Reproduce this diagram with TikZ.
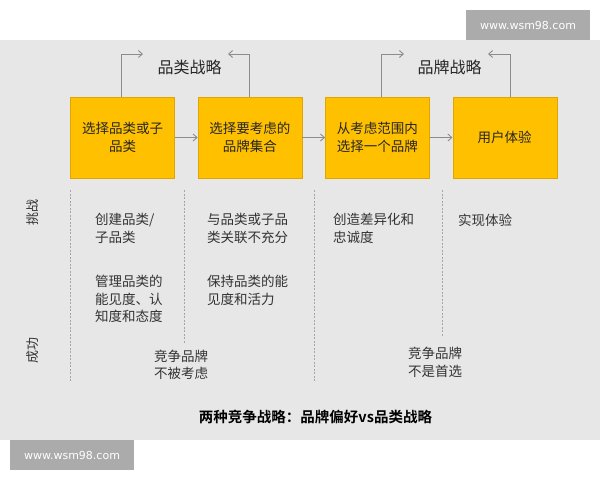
\documentclass[tikz,border=0pt]{standalone}
\usepackage{fontspec}
\setmainfont{Noto Sans CJK SC}[BoldFont={Noto Sans CJK SC Bold}]
\newfontfamily\wmfont{DejaVu Sans}
\usetikzlibrary{positioning,arrows.meta}
\definecolor{gold}{HTML}{FFC000}
\definecolor{goldline}{HTML}{E0A500}
\definecolor{panel}{HTML}{E7E7E7}
\definecolor{wmgray}{HTML}{ABABAB}
\definecolor{arrowgray}{HTML}{8C8C8C}
\begin{document}
\begin{tikzpicture}[x=1pt,y=-1pt,
  stepbox/.style={draw=goldline,fill=gold,minimum width=104pt,minimum height=81pt,inner sep=0pt,align=center,text=black!85,font=\fontsize{13.5}{18}\selectfont},
  flow/.style={draw=arrowgray,line width=0.9pt,-{Straight Barb[length=4pt,width=7pt]}},
  sep/.style={draw=gray!70,line width=0.6pt,dash pattern=on 2pt off 1.5pt},
  note/.style={anchor=west,align=left,inner sep=0pt,text=black!80,font=\fontsize{13.5}{17.5}\selectfont},
  wm/.style={fill=wmgray,text=white,minimum width=124pt,minimum height=30pt,inner sep=0pt,font=\wmfont\fontsize{11}{13}\selectfont}]
\useasboundingbox (0,0) rectangle (600,480);
\fill[panel] (0,40) rectangle (600,440);
% watermarks
\node[wm] (wmtop) at (528,25) {www.wsm98.com};
\node[wm] (wmbot) at (72,455) {www.wsm98.com};
% steps
\node[stepbox] (b1) at (122.5,137.5) {选择品类或子\\品类};
\node[stepbox,right=23pt of b1] (b2) {选择要考虑的\\品牌集合};
\node[stepbox,right=23pt of b2] (b3) {从考虑范围内\\选择一个品牌};
\node[stepbox,right=23pt of b3] (b4) {用户体验};
\draw[flow] (b1) -- (b2);
\draw[flow] (b2) -- (b3);
\draw[flow] (b3) -- (b4);
% strategy loops
\node[font=\fontsize{16}{19}\selectfont,text=black!85] (catlbl) at (189.5,67) {品类战略};
\node[font=\fontsize{16}{19}\selectfont,text=black!85] (brandlbl) at (449.5,67) {品牌战略};
\coordinate (c1) at (143,54);
\coordinate (c2) at (228,54);
\coordinate (c3) at (404,54);
\coordinate (c4) at (488,54);
\draw[flow] ([xshift=-1pt]b1.north) |- (c1);
\draw[flow] (b2.north) |- (c2);
\draw[flow] ([xshift=4pt]b3.north) |- (c3);
\draw[flow] ([xshift=6pt]b4.north) |- (c4);
% columns
\foreach \x/\y in {70/381,184/343,314/382,442/337}
  \draw[sep] (\x,190) -- (\x,\y);
\node[rotate=90,font=\fontsize{13}{15}\selectfont,text=black!80] (tiaozhan) at (33,212) {挑战};
\node[rotate=90,font=\fontsize{13}{15}\selectfont,text=black!80] (chenggong) at (33,350) {成功};
\node[note] (n11) at (95,228.5) {创建品类/\\子品类};
\node[note] (n12) at (95,299) {管理品类的\\能见度、认\\知度和态度};
\node[note] (n21) at (207,228.5) {与品类或子品\\类关联不充分};
\node[note] (n22) at (207,290.5) {保持品类的能\\见度和活力};
\node[note] (n31) at (333,228.5) {创造差异化和\\忠诚度};
\node[note] (n41) at (458,220) {实现体验};
\node[note] (lose1) at (154,365) {竞争品牌\\不被考虑};
\node[note] (lose2) at (408,362.5) {竞争品牌\\不是首选};
\node[font=\bfseries\fontsize{14.5}{17}\selectfont] (title) at (315.5,417) {两种竞争战略：品牌偏好vs品类战略};
\end{tikzpicture}
\end{document}
